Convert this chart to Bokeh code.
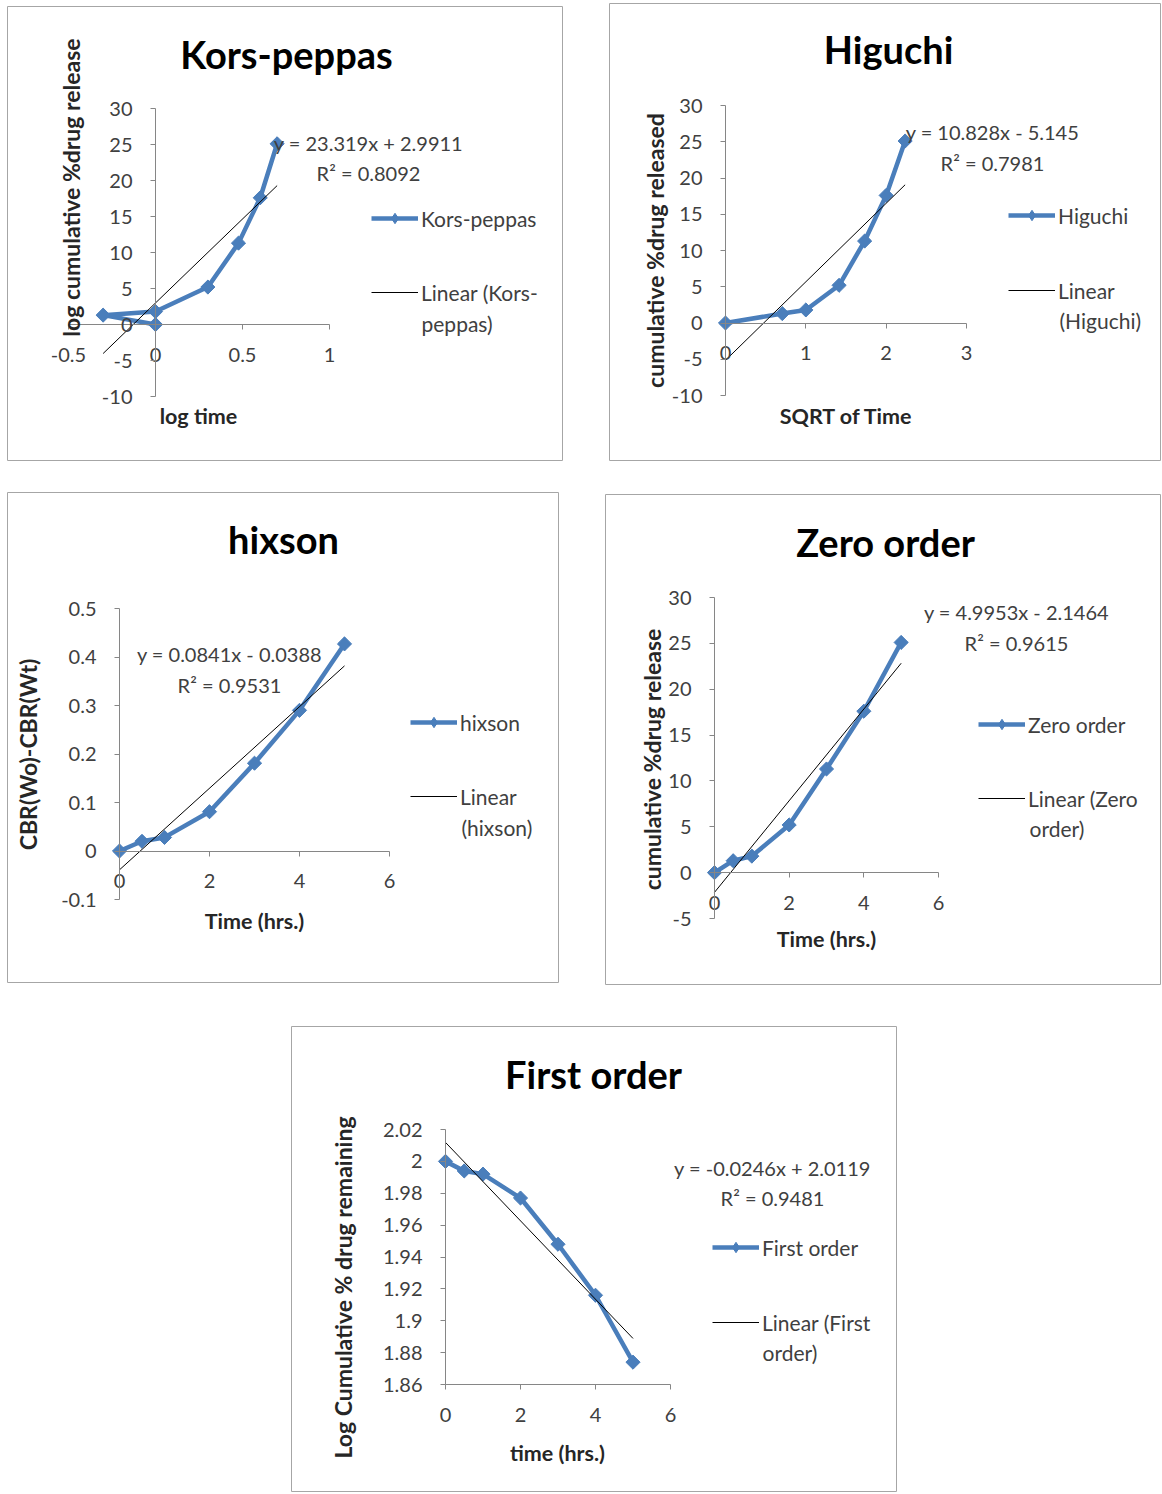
import math
from bokeh.plotting import figure
from bokeh.models import LinearAxis, FixedTicker, Label, Legend, LegendItem, Range1d, Spacer
from bokeh.layouts import column, row
from bokeh.embed import file_html
from bokeh.resources import INLINE

# ---------------- data ----------------
titles = ["Kors-peppas", "Higuchi", "hixson", "Zero order", "First order"]
series_names = ["Kors-peppas", "Higuchi", "hixson", "Zero order", "First order"]
x_titles = ["log time", "SQRT of Time", "Time (hrs.)", "Time (hrs.)", "time (hrs.)"]
y_titles = ["log cumulative %drug release", "cumulative %drug released",
            "CBR(Wo)-CBR(Wt)", "cumulative %drug release",
            "Log Cumulative % drug remaining"]

kp_x = [0, -0.301, 0, 0.301, 0.477, 0.602, 0.699]
kp_y = [0, 1.3, 1.8, 5.2, 11.3, 17.6, 25.1]
hg_x = [0, 0.707, 1, 1.414, 1.732, 2, 2.236]
hg_y = [0, 1.3, 1.8, 5.2, 11.3, 17.6, 25.1]
hx_x = [0, 0.5, 1, 2, 3, 4, 5]
hx_y = [0, 0.020, 0.028, 0.081, 0.181, 0.290, 0.427]
zo_x = [0, 0.5, 1, 2, 3, 4, 5]
zo_y = [0, 1.3, 1.8, 5.2, 11.3, 17.6, 25.1]
fo_x = [0, 0.5, 1, 2, 3, 4, 5]
fo_y = [2.0, 1.994, 1.992, 1.977, 1.948, 1.916, 1.874]

trend_slope = [23.319, 10.828, 0.0841, 4.9953, -0.0246]
trend_icpt = [2.9911, -5.145, -0.0388, -2.1464, 2.0119]
eq_text = ["y = 23.319x + 2.9911", "y = 10.828x - 5.145", "y = 0.0841x - 0.0388",
           "y = 4.9953x - 2.1464", "y = -0.0246x + 2.0119"]
r2_text = ["R\u00b2 = 0.8092", "R\u00b2 = 0.7981", "R\u00b2 = 0.9531",
           "R\u00b2 = 0.9615", "R\u00b2 = 0.9481"]
trend_legend_1 = ["Linear (Kors-", "Linear", "Linear", "Linear (Zero", "Linear (First"]
trend_legend_2 = ["peppas)", "(Higuchi)", "(hixson)", "order)", "order)"]

kp_xticks = [-0.5, 0, 0.5, 1]
kp_xlabels = ["-0.5", "0", "0.5", "1"]
kp_yticks = [-10, -5, 0, 5, 10, 15, 20, 25, 30]
kp_ylabels = ["-10", "-5", "0", "5", "10", "15", "20", "25", "30"]
hg_xticks = [0, 1, 2, 3]
hg_xlabels = ["0", "1", "2", "3"]
hg_yticks = [-10, -5, 0, 5, 10, 15, 20, 25, 30]
hg_ylabels = ["-10", "-5", "0", "5", "10", "15", "20", "25", "30"]
hx_xticks = [0, 2, 4, 6]
hx_xlabels = ["0", "2", "4", "6"]
hx_yticks = [-0.1, 0, 0.1, 0.2, 0.3, 0.4, 0.5]
hx_ylabels = ["-0.1", "0", "0.1", "0.2", "0.3", "0.4", "0.5"]
zo_xticks = [0, 2, 4, 6]
zo_xlabels = ["0", "2", "4", "6"]
zo_yticks = [-5, 0, 5, 10, 15, 20, 25, 30]
zo_ylabels = ["-5", "0", "5", "10", "15", "20", "25", "30"]
fo_xticks = [0, 2, 4, 6]
fo_xlabels = ["0", "2", "4", "6"]
fo_yticks = [1.86, 1.88, 1.9, 1.92, 1.94, 1.96, 1.98, 2, 2.02]
fo_ylabels = ["1.86", "1.88", "1.9", "1.92", "1.94", "1.96", "1.98", "2", "2.02"]

series_x = [kp_x, hg_x, hx_x, zo_x, fo_x]
series_y = [kp_y, hg_y, hx_y, zo_y, fo_y]
xticks = [kp_xticks, hg_xticks, hx_xticks, zo_xticks, fo_xticks]
xlabels = [kp_xlabels, hg_xlabels, hx_xlabels, zo_xlabels, fo_xlabels]
yticks = [kp_yticks, hg_yticks, hx_yticks, zo_yticks, fo_yticks]
ylabels = [kp_ylabels, hg_ylabels, hx_ylabels, zo_ylabels, fo_ylabels]

# ---------------- styling / layout ----------------
FONT = "Lato"
BLUE = "#4A7EBB"
AXIS = "#868686"
TXT = "#404040"
BORDER = "#A6A6A6"
IH = 26  # legend item height

# page-pixel layout of each panel and its parts
specs = [
    dict(box=(7, 6, 556, 455), xp=(68, 329), yp=(396, 108),
         title=(286, 53), ytitle=(70, 187), xtitle=(198, 415), eq=(368, 142, 172),
         leg=(371, 218, 292, 421, 323)),
    dict(box=(609, 3, 552, 458), xp=(725, 966), yp=(395, 105),
         title=(888, 48), ytitle=(654, 250), xtitle=(846, 415), eq=(992, 131, 162),
         leg=(1008, 215, 290, 1059, 320)),
    dict(box=(7, 492, 552, 491), xp=(119, 389), yp=(899, 608),
         title=(283, 538), ytitle=(27, 754), xtitle=(254, 920), eq=(229, 653, 684),
         leg=(410, 722, 796, 461, 827)),
    dict(box=(605, 494, 556, 491), xp=(714, 938), yp=(918, 597),
         title=(885, 541), ytitle=(651, 759), xtitle=(826, 938), eq=(1016, 611, 642),
         leg=(978, 724, 798, 1029, 828)),
    dict(box=(291, 1026, 606, 466), xp=(445, 670), yp=(1384, 1129),
         title=(593, 1073), ytitle=(342, 1287), xtitle=(557, 1452), eq=(772, 1167, 1197),
         leg=(712, 1247, 1322, 762, 1352)),
]


def build(i):
    s = specs[i]
    L, T, W, H = s["box"]
    x0, x1 = xticks[i][0], xticks[i][-1]
    y0, y1 = yticks[i][0], yticks[i][-1]
    px0, px1 = s["xp"]
    py0, py1 = s["yp"]
    sx = (px1 - px0) / (x1 - x0)
    sy = (py0 - py1) / (y1 - y0)

    def fx(px):
        return x0 + (px - px0) / sx

    def fy(py):
        return y0 + (py0 - py) / sy

    p = figure(width=W, height=H,
               x_range=Range1d(fx(L), fx(L + W)), y_range=Range1d(fy(T + H), fy(T)),
               x_axis_location=None, y_axis_location=None, title=None,
               toolbar_location=None, output_backend="svg", min_border=0)
    p.grid.visible = False
    p.outline_line_color = BORDER
    p.outline_line_width = 1
    p.background_fill_color = "white"
    p.border_fill_color = "white"

    x_at = 0 if y0 <= 0 <= y1 else y0
    y_at = 0 if x0 <= 0 <= x1 else x0

    xa = LinearAxis(fixed_location=x_at, bounds=(x0, x1),
                    ticker=FixedTicker(ticks=xticks[i]),
                    major_label_overrides=dict(zip(xticks[i], xlabels[i])))
    ya = LinearAxis(fixed_location=y_at, bounds=(y0, y1),
                    ticker=FixedTicker(ticks=yticks[i]),
                    major_label_overrides=dict(zip(yticks[i], ylabels[i])))
    for ax in (xa, ya):
        ax.axis_line_color = AXIS
        ax.major_tick_line_color = AXIS
        ax.major_tick_in = 0
        ax.major_tick_out = 5
        ax.minor_tick_line_color = None
        ax.major_label_text_font = FONT
        ax.major_label_text_font_size = "20px"
        ax.major_label_text_color = TXT
    xa.major_label_standoff = 18
    ya.major_label_standoff = 18
    p.add_layout(xa, "below")
    p.add_layout(ya, "left")

    xv, yv = series_x[i], series_y[i]
    line_r = p.line(xv, yv, line_color=BLUE, line_width=4.5)
    # diamond glyph (drawn under the rotated squares) that supplies the legend marker
    leg_mark = p.scatter(xv, yv, marker="diamond", size=12.5,
                         fill_color=BLUE, line_color=BLUE)
    p.scatter(xv, yv, marker="square", angle=math.pi / 4, size=10,
              fill_color=BLUE, line_color=BLUE)
    tx = [min(xv), max(xv)]
    ty = [trend_slope[i] * t + trend_icpt[i] for t in tx]
    tr_r = p.line(tx, ty, line_color="black", line_width=1)

    def lab(text, px, py, size="21px", bold=False, color=TXT, align="center", angle=0.0):
        p.add_layout(Label(x=fx(px), y=fy(py), text=text, text_font=FONT,
                           text_font_size=size, text_color=color,
                           text_font_style="bold" if bold else "normal",
                           text_align=align, text_baseline="middle", angle=angle))

    tx_, ty_ = s["title"]
    lab(titles[i], tx_, ty_, size="38px", bold=True, color="black")
    yx, yy = s["ytitle"]
    lab(y_titles[i], yx, yy, size="23px", bold=True, color="#262626", angle=math.pi / 2)
    xx, xy = s["xtitle"]
    lab(x_titles[i], xx, xy, size="21.5px", bold=True, color="#262626")
    ex, e1, e2 = s["eq"]
    lab(eq_text[i], ex, e1, size="20px")
    lab(r2_text[i], ex, e2, size="20px")

    gx, c1, c2, cx, c3 = s["leg"]
    common = dict(padding=0, margin=0, spacing=0, glyph_width=47, glyph_height=IH,
                  label_height=IH, label_standoff=3, border_line_color=None,
                  background_fill_alpha=0, label_text_font=FONT,
                  label_text_font_size="21px", label_text_color=TXT)
    leg1 = Legend(items=[LegendItem(label=series_names[i], renderers=[line_r, leg_mark])],
                  location=(gx - L, H - (c1 - T) - IH / 2), **common)
    leg2 = Legend(items=[LegendItem(label=trend_legend_1[i], renderers=[tr_r])],
                  location=(gx - L, H - (c2 - T) - IH / 2), **common)
    p.add_layout(leg1)
    p.add_layout(leg2)
    lab(trend_legend_2[i], cx, c3, align="left")
    return p


figs = [build(i) for i in range(5)]

layout = column(
    Spacer(height=3, width=10),
    row(Spacer(width=7, height=10), column(Spacer(height=3, width=10), figs[0]),
        Spacer(width=46, height=10), figs[1]),
    Spacer(height=31, width=10),
    row(Spacer(width=7, height=10), figs[2], Spacer(width=46, height=10),
        column(Spacer(height=2, width=10), figs[3])),
    Spacer(height=41, width=10),
    row(Spacer(width=291, height=10), figs[4]),
)

open("out.html", "w").write(file_html(layout, INLINE))
